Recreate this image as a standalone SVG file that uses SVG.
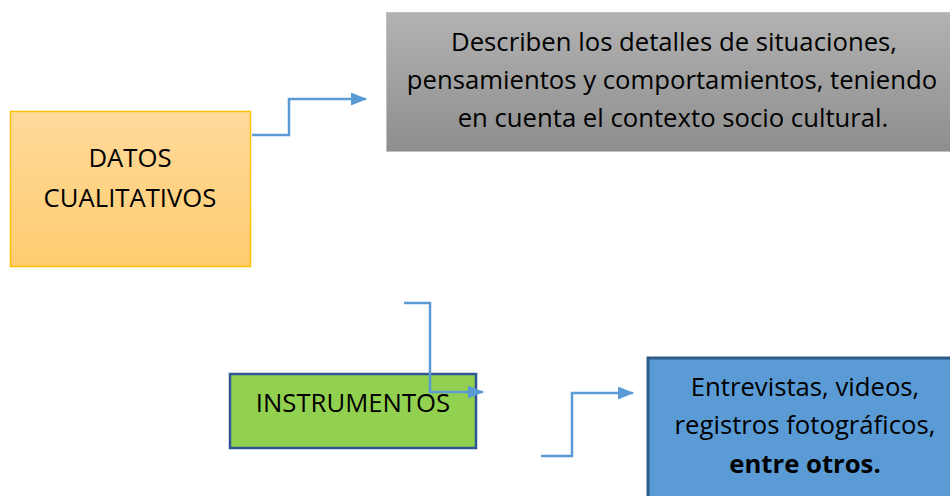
<svg xmlns="http://www.w3.org/2000/svg" width="950" height="496" viewBox="0 0 950 496">
<defs>
<linearGradient id="gOrange" x1="0" y1="0" x2="0" y2="1">
<stop offset="0" stop-color="#FFDA9B"/>
<stop offset="1" stop-color="#FFCC70"/>
</linearGradient>
<linearGradient id="gGray" x1="0" y1="0" x2="0" y2="1">
<stop offset="0" stop-color="#B2B2B2"/>
<stop offset="1" stop-color="#8E8E8E"/>
</linearGradient>
<marker id="arr" markerWidth="16" markerHeight="13" refX="15" refY="6.5" orient="auto" markerUnits="userSpaceOnUse">
<path d="M0,0 L16,6.5 L0,13 Z" fill="#5B9BD5"/>
</marker>
<style>
.t{font-family:"Open Sans","Liberation Sans",sans-serif;font-size:25.7px;fill:#000;text-anchor:middle}
.b{font-weight:bold}
.c{fill:none;stroke:#5B9BD5;stroke-width:2.5}
</style>
</defs>
<rect width="950" height="496" fill="#FFFFFF"/>
<g id="datos">
<rect x="10.5" y="111.5" width="240" height="155" fill="url(#gOrange)" stroke="#FFC000" stroke-width="1.5"/>
<text class="t" x="130" y="166.5">DATOS</text>
<text class="t" x="130" y="206.5">CUALITATIVOS</text>
</g>
<g id="descripcion">
<rect x="386.5" y="12.5" width="570" height="139" fill="url(#gGray)" stroke="#BFBFBF" stroke-width="1"/>
<text class="t" x="674" y="51">Describen los detalles de situaciones,</text>
<text class="t" x="672" y="89">pensamientos y comportamientos, teniendo</text>
<text class="t" x="673" y="127">en cuenta el contexto socio cultural.</text>
</g>
<g id="instrumentos">
<rect x="230" y="374" width="246" height="74" fill="#92D050" stroke="#2F5597" stroke-width="2.5"/>
<text class="t" x="353" y="411.5">INSTRUMENTOS</text>
</g>
<g id="ejemplos">
<rect x="648" y="358" width="310" height="150" fill="#5B9BD5" stroke="#2E5C8A" stroke-width="3"/>
<text class="t" x="805" y="395.5">Entrevistas, videos,</text>
<text class="t" x="805" y="434">registros fotográficos,</text>
<text class="t b" x="805" y="472.5">entre otros.</text>
</g>
<g id="connectors">
<path class="c" d="M252,135 H289 V99 H366" marker-end="url(#arr)"/>
<path class="c" d="M404,303 H430 V392 H483" marker-end="url(#arr)"/>
<path class="c" d="M541,456 H572 V393 H633" marker-end="url(#arr)"/>
</g>
</svg>
